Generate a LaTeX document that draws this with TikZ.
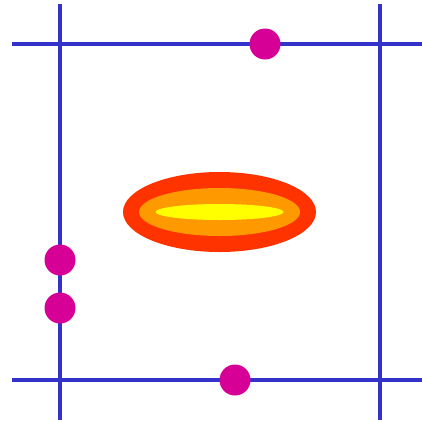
\documentclass[tikz,border=0pt]{standalone}
\begin{document}
\definecolor{lineblue}{RGB}{51,51,204}
\definecolor{dotmag}{RGB}{214,0,150}
\definecolor{ered}{RGB}{255,51,0}
\definecolor{eorange}{RGB}{255,153,0}
\definecolor{eyellow}{RGB}{255,255,0}
\begin{tikzpicture}[x=1pt,y=-1pt,
  gridline/.style={draw=lineblue,line width=3.5pt},
  dot/.style={circle,fill=dotmag,inner sep=0pt,minimum size=31pt}]
\useasboundingbox (0,0) rectangle (422,421);
\fill[white] (0,0) rectangle (422,421);
\coordinate (v1t) at (60,4); \coordinate (v1b) at (60,420);
\coordinate (v2t) at (380,4); \coordinate (v2b) at (380,420);
\coordinate (h1l) at (12,44); \coordinate (h1r) at (422,44);
\coordinate (h2l) at (12,380); \coordinate (h2r) at (422,380);
\draw[gridline] (v1t) -- (v1b);
\draw[gridline] (v2t) -- (v2b);
\draw[gridline] (h1l) -- (h1r);
\draw[gridline] (h2l) -- (h2r);
\fill[ered] (219.5,212) ellipse [x radius=96.5, y radius=40];
\fill[eorange] (219.5,212) ellipse [x radius=80.5, y radius=24];
\fill[eyellow] (219.5,212) ellipse [x radius=64, y radius=8];
\node[dot] (d1) at (265,44) {};
\node[dot] (d2) at (60,260) {};
\node[dot] (d3) at (60,308) {};
\node[dot] (d4) at (235,380) {};
\end{tikzpicture}
\end{document}
